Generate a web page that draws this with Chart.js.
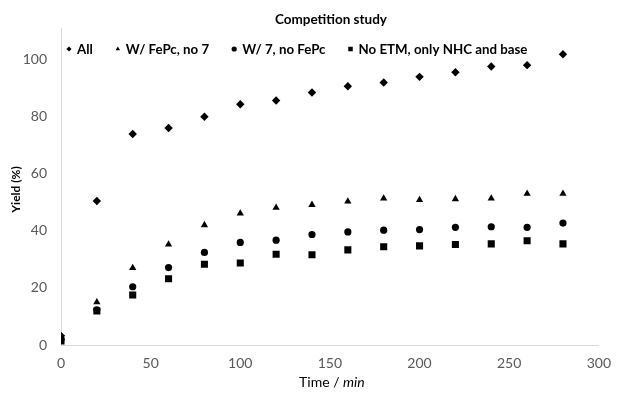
<!DOCTYPE html>
<html>
<head>
<meta charset="utf-8">
<script src="https://cdn.jsdelivr.net/npm/chart.js@4"></script>
<style>
  body { margin: 0; background: #fff; }
  #wrap { width: 621px; height: 394px; }
</style>
</head>
<body>
<div id="wrap"><canvas id="yieldChart" width="621" height="394"></canvas></div>
<script>
// values
const chartTitle = "Competition study";
const timeMin = [0, 20, 40, 60, 80, 100, 120, 140, 160, 180, 200, 220, 240, 260, 280];
const seriesNames = ["All", "W/ FePc, no 7", "W/ 7, no FePc", "No ETM, only NHC and base"];
const yieldAll = [3.2, 50.4, 73.9, 76.0, 79.9, 84.3, 85.6, 88.4, 90.6, 91.9, 93.9, 95.5, 97.5, 98.0, 101.8];
const yieldFePc = [2.6, 15.0, 27.0, 35.2, 42.0, 46.1, 48.1, 49.1, 50.3, 51.3, 50.8, 51.1, 51.3, 53.0, 53.0];
const yieldSeven = [2.0, 12.3, 20.4, 27.1, 32.4, 35.9, 36.7, 38.7, 39.6, 40.2, 40.4, 41.2, 41.4, 41.2, 42.7];
const yieldNoEtm = [1.4, 11.9, 17.5, 23.2, 28.3, 28.7, 31.8, 31.6, 33.3, 34.4, 34.7, 35.2, 35.4, 36.5, 35.4];
const xTicks = [0, 50, 100, 150, 200, 250, 300];
const yTicks = [0, 20, 40, 60, 80, 100];

const FONT = "Lato, 'Open Sans', sans-serif";

function points(ys) {
    return timeMin.map((t, i) => ({ x: t, y: ys[i] }));
}

function series(name, ys, style, radius) {
    return {
        label: name,
        data: points(ys),
        pointStyle: style,
        pointRadius: radius,
        pointHoverRadius: radius,
        backgroundColor: '#000',
        borderColor: '#000',
        borderWidth: 0
    };
}

// title, legend row and axis titles (x title has italic "min")
const textPlugin = {
    id: 'texts',
    afterDraw(chart) {
        const ctx = chart.ctx;
        const a = chart.chartArea;
        const cx = (a.left + a.right) / 2;
        ctx.save();
        ctx.fillStyle = '#000';
        ctx.textBaseline = 'middle';

        ctx.textAlign = 'center';
        ctx.font = "bold 13.5px " + FONT;
        ctx.fillText(chartTitle, cx + 1, 20);

        // legend inside the plot, one row
        ctx.textAlign = 'left';
        ctx.font = "bold 13.3px " + FONT;
        let lx = a.left + 8;
        const ly = 49;
        chart.data.datasets.forEach(ds => {
            Chart.helpers.drawPoint(ctx, { pointStyle: ds.pointStyle, radius: ds.pointStyle === 'rect' ? 3.2 : 2.6, rotation: 0, borderWidth: 0 }, lx, ly);
            ctx.fillStyle = '#000';
            ctx.fillText(ds.label, lx + 8, ly + 1);
            lx += 8 + ctx.measureText(ds.label).width + 25;
        });

        // x axis title
        ctx.font = "14px " + FONT;
        const partA = "Time / ";
        const wA = ctx.measureText(partA).width;
        ctx.font = "italic 14px " + FONT;
        const wB = ctx.measureText("min").width;
        let x0 = cx + 2 - (wA + wB) / 2;
        ctx.font = "14px " + FONT;
        ctx.fillText(partA, x0, 382);
        ctx.font = "italic 14px " + FONT;
        ctx.fillText("min", x0 + wA, 382);

        // y axis title
        ctx.translate(16, (a.top + a.bottom) / 2 + 3);
        ctx.rotate(-Math.PI / 2);
        ctx.textAlign = 'center';
        ctx.font = "bold 12px " + FONT;
        ctx.fillText("Yield (%)", 0, 0);
        ctx.restore();
    }
};

new Chart(document.getElementById("yieldChart"), {
    type: "scatter",
    data: {
        datasets: [
            series(seriesNames[0], yieldAll, 'rectRot', 4.2),
            series(seriesNames[1], yieldFePc, 'triangle', 4.2),
            series(seriesNames[2], yieldSeven, 'circle', 3.6),
            series(seriesNames[3], yieldNoEtm, 'rect', 5)
        ]
    },
    options: {
        responsive: false,
        animation: false,
        layout: { padding: { top: 28, right: 14, left: 0, bottom: 0 } },
        plugins: {
            title: { display: false },
            tooltip: { enabled: false },
            legend: { display: false }
        },
        scales: {
            x: {
                type: 'linear',
                min: xTicks[0],
                max: xTicks[xTicks.length - 1],
                afterBuildTicks: s => { s.ticks = xTicks.map(v => ({ value: v })); },
                afterFit: s => { s.height = 49; },
                grid: { display: false, drawTicks: false },
                border: { display: true, color: '#d9d9d9', width: 1 },
                ticks: { padding: 10, color: '#595959', font: { family: FONT, size: 14 } }
            },
            y: {
                type: 'linear',
                min: 0,
                max: 111,
                afterBuildTicks: s => { s.ticks = yTicks.map(v => ({ value: v })); },
                afterFit: s => { s.width = 61; },
                grid: { display: false, drawTicks: false },
                border: { display: true, color: '#d9d9d9', width: 1 },
                ticks: { padding: 14, color: '#595959', font: { family: FONT, size: 14 } }
            }
        }
    },
    plugins: [textPlugin]
});
</script>
</body>
</html>
